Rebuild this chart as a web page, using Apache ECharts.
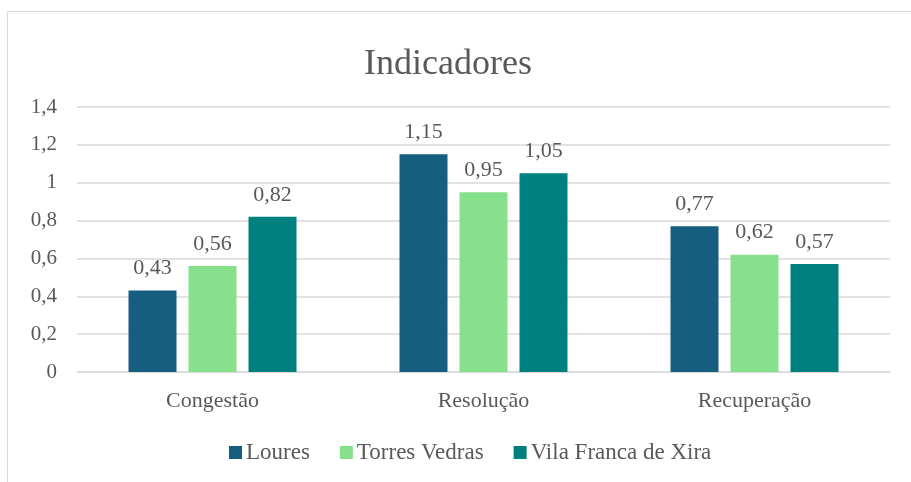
<!DOCTYPE html>
<html><head><meta charset="utf-8">
<script src="https://cdn.jsdelivr.net/npm/echarts@6/dist/echarts.min.js"></script>
<style>html,body{margin:0;padding:0;background:#fff}#c{width:911px;height:482px}</style>
</head><body><div id="c"></div>
<script>
const categories = ['Congestão', 'Resolução', 'Recuperação'];
const seriesNames = ['Loures', 'Torres Vedras', 'Vila Franca de Xira'];
const loures = [0.43, 1.15, 0.77];
const torresVedras = [0.56, 0.95, 0.62];
const vilaFranca = [0.82, 1.05, 0.57];
const colors = ['#165E80', '#86E08C', '#007F7F'];
const font = '"Liberation Serif", "DejaVu Serif", serif';
const fmt = v => String(v).replace('.', ',');
const chart = echarts.init(document.getElementById('c'));
const mk = (name, data, color) => ({
  name, type: 'bar', data, barWidth: 48, barGap: '25%',
  itemStyle: { color },
  label: { show: true, position: 'top', distance: 11, color: '#595959', fontFamily: font, fontSize: 22,
    formatter: p => fmt(p.value) }
});
chart.setOption({
  animation: false,
  graphic: [{ type: 'rect', shape: { x: 7.5, y: 11.5, width: 920, height: 500 }, style: { fill: 'none', stroke: '#d9d9d9', lineWidth: 1 } }],
  title: { text: 'Indicadores', left: 359, top: 42, textStyle: { fontFamily: font, fontSize: 36, fontWeight: 'normal', color: '#595959' } },
  legend: { bottom: 13, left: 224, itemWidth: 13, itemHeight: 13, itemGap: 30, icon: 'rect',
    textStyle: { fontFamily: font, fontSize: 23, color: '#595959', padding: [0, 0, 0, -1] } },
  grid: { left: 77, right: 21, top: 107, bottom: 110 },
  xAxis: { type: 'category', data: categories,
    axisLine: { lineStyle: { color: '#d9d9d9', width: 1 } }, axisTick: { show: false },
    axisLabel: { fontFamily: font, fontSize: 22, color: '#595959', margin: 18 } },
  yAxis: { type: 'value', min: 0, max: 1.4, interval: 0.2,
    axisLine: { show: false }, axisTick: { show: false },
    splitLine: { lineStyle: { color: '#d9d9d9', width: 1.5 } },
    axisLabel: { fontFamily: font, fontSize: 21, color: '#595959', margin: 20, formatter: v => fmt(Math.round(v * 10) / 10) } },
  series: [mk(seriesNames[0], loures, colors[0]), mk(seriesNames[1], torresVedras, colors[1]), mk(seriesNames[2], vilaFranca, colors[2])]
});
</script></body></html>
